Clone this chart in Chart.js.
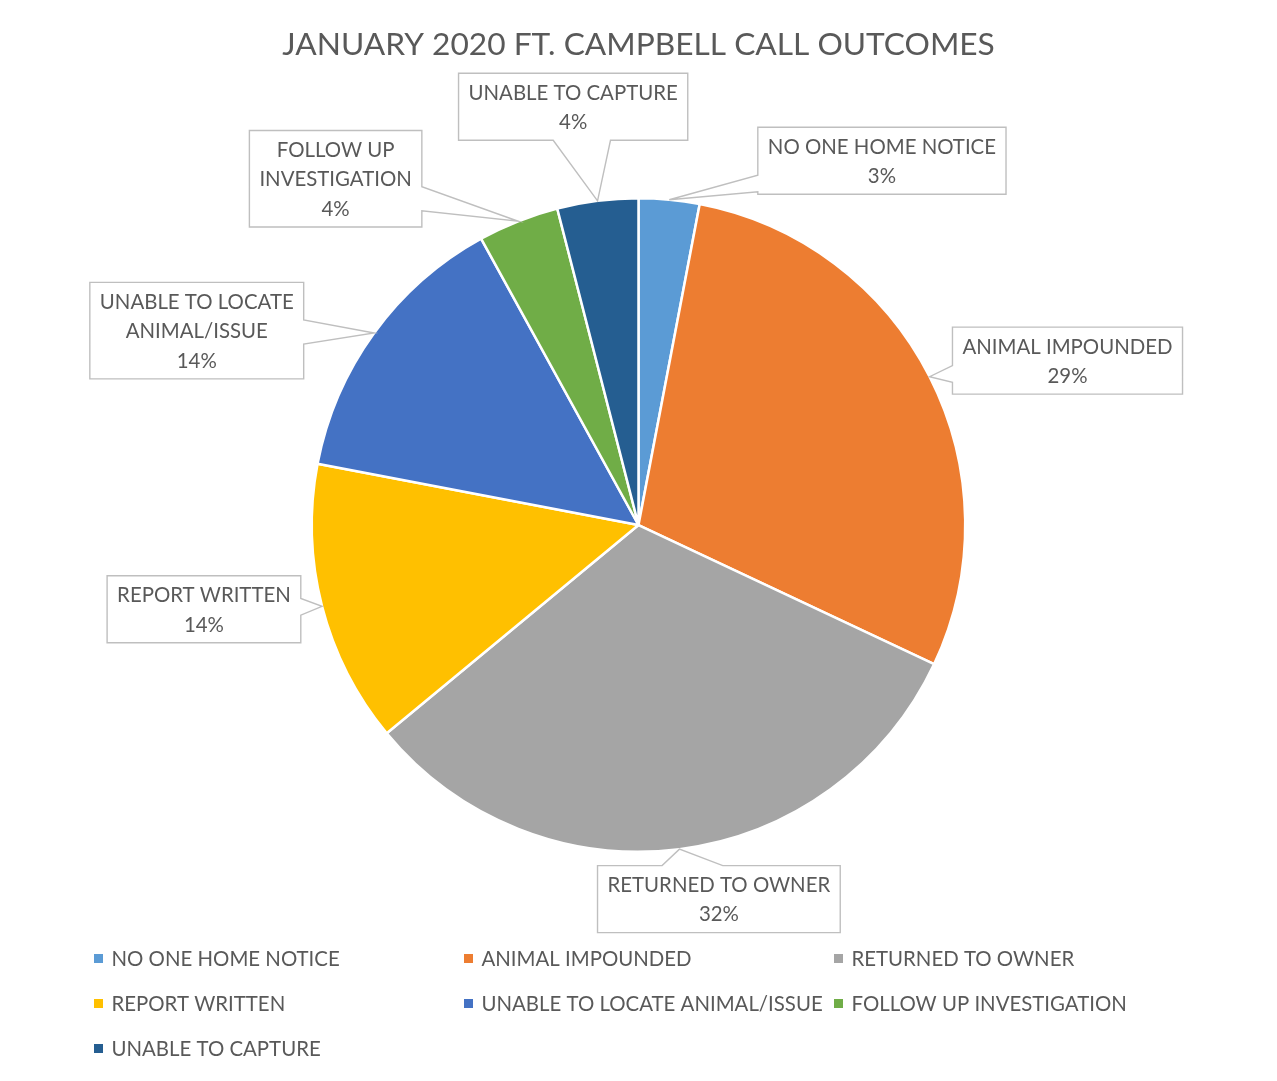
<!DOCTYPE html>
<html>
<head>
<meta charset="utf-8">
<script src="https://cdn.jsdelivr.net/npm/chart.js@4.4.1/dist/chart.umd.min.js"></script>
<style>
  html, body { margin: 0; padding: 0; background: #fff; }
  #chart { display: block; }
</style>
</head>
<body>
<canvas id="chart" width="1277" height="1081"></canvas>
<script>
const chartTitle = 'JANUARY 2020 FT. CAMPBELL CALL OUTCOMES';
const categories = [
    'NO ONE HOME NOTICE',
    'ANIMAL IMPOUNDED',
    'RETURNED TO OWNER',
    'REPORT WRITTEN',
    'UNABLE TO LOCATE ANIMAL/ISSUE',
    'FOLLOW UP INVESTIGATION',
    'UNABLE TO CAPTURE'
];
const outcomeShares = [3, 29, 32, 14, 14, 4, 4];
const sliceColors = ['#5B9BD5', '#ED7D31', '#A5A5A5', '#FFC000', '#4472C4', '#70AD47', '#255E91'];

// where each callout box sits, relative to pie centre, in pie radii
const calloutOffsets = [
    [0.745, -1.115],
    [1.313, -0.503],
    [0.246, 1.145],
    [-1.330, 0.258],
    [-1.352, -0.595],
    [-0.927, -1.060],
    [-0.200, -1.280]
];

const textColor = '#595959';
const fontFamily = 'Lato, "Open Sans", sans-serif';
const labelFontSize = 20.4;
const labelLineHeight = 29.5;
const labelMaxWidth = 260;

function wrapText(ctx, text, maxW) {
    const words = text.split(' ');
    const lines = [];
    let cur = '';
    words.forEach(w => {
        const test = cur ? cur + ' ' + w : w;
        if (cur && ctx.measureText(test).width > maxW) {
            lines.push(cur);
            cur = w;
        } else {
            cur = test;
        }
    });
    if (cur) lines.push(cur);
    return lines;
}

function drawCallout(ctx, box, tip) {
    const cx = (box.l + box.r) / 2, cy = (box.t + box.b) / 2;
    const hw = (box.r - box.l) / 2, hh = (box.b - box.t) / 2;
    const dx = tip.x - cx, dy = tip.y - cy;
    let side;
    if (Math.abs(dx) * hh > Math.abs(dy) * hw) side = dx > 0 ? 'right' : 'left';
    else side = dy > 0 ? 'bottom' : 'top';

    let a, b; // wedge base along the edge
    if (side === 'left' || side === 'right') {
        const ex = side === 'right' ? box.r : box.l;
        const yHit = cy + dy * (ex - cx) / dx;
        const w = (box.b - box.t) * 0.25;
        let s = Math.min(Math.max(yHit - w / 2, box.t + 2), box.b - 2 - w);
        a = s; b = s + w;
    } else {
        const ey = side === 'bottom' ? box.b : box.t;
        const xHit = cx + dx * (ey - cy) / dy;
        const w = (box.r - box.l) * 0.25;
        let s = Math.min(Math.max(xHit - w / 2, box.l + 2), box.r - 2 - w);
        a = s; b = s + w;
    }

    ctx.beginPath();
    ctx.moveTo(box.l, box.t);
    if (side === 'top') {
        ctx.lineTo(a, box.t); ctx.lineTo(tip.x, tip.y); ctx.lineTo(b, box.t);
    }
    ctx.lineTo(box.r, box.t);
    if (side === 'right') {
        ctx.lineTo(box.r, a); ctx.lineTo(tip.x, tip.y); ctx.lineTo(box.r, b);
    }
    ctx.lineTo(box.r, box.b);
    if (side === 'bottom') {
        ctx.lineTo(b, box.b); ctx.lineTo(tip.x, tip.y); ctx.lineTo(a, box.b);
    }
    ctx.lineTo(box.l, box.b);
    if (side === 'left') {
        ctx.lineTo(box.l, b); ctx.lineTo(tip.x, tip.y); ctx.lineTo(box.l, a);
    }
    ctx.closePath();
    ctx.fillStyle = '#ffffff';
    ctx.fill();
    ctx.strokeStyle = '#BFBFBF';
    ctx.lineWidth = 1.4;
    ctx.stroke();
}

const calloutPlugin = {
    id: 'callouts',
    afterDatasetsDraw(chart) {
        const ctx = chart.ctx;
        const meta = chart.getDatasetMeta(0);
        const values = chart.data.datasets[0].data;
        const total = values.reduce((s, v) => s + v, 0);
        ctx.save();
        ctx.font = labelFontSize + 'px ' + fontFamily;
        meta.data.forEach((arc, i) => {
            const p = arc.getProps(['x', 'y', 'startAngle', 'endAngle', 'outerRadius'], true);
            const mid = (p.startAngle + p.endAngle) / 2;
            const tip = { x: p.x + Math.cos(mid) * p.outerRadius, y: p.y + Math.sin(mid) * p.outerRadius };
            const lines = wrapText(ctx, chart.data.labels[i], labelMaxWidth);
            lines.push(Math.round(values[i] / total * 100) + '%');
            const w = Math.max(...lines.map(l => ctx.measureText(l).width)) + 20;
            const h = lines.length * labelLineHeight + 8;
            const bx = p.x + calloutOffsets[i][0] * p.outerRadius;
            const by = p.y + calloutOffsets[i][1] * p.outerRadius;
            const box = { l: bx - w / 2, r: bx + w / 2, t: by - h / 2, b: by + h / 2 };
            drawCallout(ctx, box, tip);
            ctx.fillStyle = textColor;
            ctx.textAlign = 'center';
            ctx.textBaseline = 'middle';
            lines.forEach((l, k) => {
                ctx.fillText(l, bx, box.t + 4 + labelLineHeight * (k + 0.5) + 1);
            });
        });
        ctx.restore();
    }
};

const gridLegendPlugin = {
    id: 'gridLegend',
    afterDraw(chart) {
        const ctx = chart.ctx;
        const items = Chart.overrides.pie.plugins.legend.labels.generateLabels(chart);
        const left = 94, colW = 370, top = 958.5, rowH = 45, cols = 3;
        ctx.save();
        ctx.font = labelFontSize + 'px ' + fontFamily;
        ctx.textBaseline = 'middle';
        ctx.textAlign = 'left';
        items.forEach((it, i) => {
            const x = left + (i % cols) * colW;
            const y = top + Math.floor(i / cols) * rowH;
            ctx.fillStyle = it.fillStyle;
            ctx.fillRect(x, y - 4.5, 9, 9);
            ctx.fillStyle = textColor;
            ctx.fillText(it.text, x + 17.5, y + 1);
        });
        ctx.restore();
    }
};

const ctxPie = document.getElementById('chart').getContext('2d');
const outcomeChart = new Chart(ctxPie, {
    type: 'pie',
    data: {
        labels: categories,
        datasets: [{
            data: outcomeShares,
            backgroundColor: sliceColors,
            borderColor: '#ffffff',
            borderWidth: 2.5
        }]
    },
    options: {
        responsive: false,
        animation: false,
        layout: { padding: { top: 0, bottom: 228, left: 0, right: 0 } },
        plugins: {
            legend: { display: false },
            tooltip: { enabled: false },
            title: {
                display: true,
                text: chartTitle,
                color: textColor,
                font: { family: fontFamily, size: 31.7, weight: 'normal', lineHeight: 1.2 },
                padding: { top: 26, bottom: 133 }
            }
        }
    },
    plugins: [calloutPlugin, gridLegendPlugin]
});
</script>
</body>
</html>
